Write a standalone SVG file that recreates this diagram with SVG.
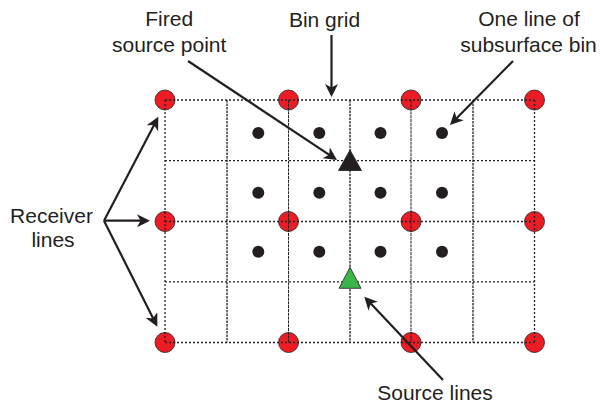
<svg xmlns="http://www.w3.org/2000/svg" width="600" height="407" viewBox="0 0 600 407">
<style>
.lbl{font-family:"Liberation Sans",Arial,sans-serif;font-size:21px;fill:#231F20;text-anchor:middle}
.rcv{fill:#ED1C24;stroke:#231F20;stroke-width:0.8}
.bin{fill:#231F20}
.h{stroke:#231F20;stroke-width:1.3;stroke-dasharray:2 2;fill:none}
.vd{stroke:#231F20;stroke-width:1.3;stroke-dasharray:2.5 1;fill:none}
.vt{stroke:#231F20;stroke-width:1;stroke-dasharray:3 0.8;fill:none}
.arr{stroke:#231F20;stroke-width:2.2;fill:none;marker-end:url(#ah)}
</style>
<defs>
<marker id="ah" markerUnits="userSpaceOnUse" markerWidth="15" markerHeight="14" refX="6" refY="6.5" orient="auto">
<path d="M0,0 L13,6.5 L0,13 L3.5,6.5 z" fill="#231F20"/>
</marker>
</defs>
<rect width="600" height="407" fill="#fff"/>
<g id="receivers">
<circle class="rcv" cx="165" cy="100" r="10"/>
<circle class="rcv" cx="288.5" cy="100" r="10"/>
<circle class="rcv" cx="411" cy="100" r="10"/>
<circle class="rcv" cx="534.5" cy="100" r="10"/>
<circle class="rcv" cx="165" cy="221.5" r="10"/>
<circle class="rcv" cx="288.5" cy="221.5" r="10"/>
<circle class="rcv" cx="411" cy="221.5" r="10"/>
<circle class="rcv" cx="534.5" cy="221.5" r="10"/>
<circle class="rcv" cx="165" cy="342.5" r="10"/>
<circle class="rcv" cx="288.5" cy="342.5" r="10"/>
<circle class="rcv" cx="411" cy="342.5" r="10"/>
<circle class="rcv" cx="534.5" cy="342.5" r="10"/>
</g>
<g id="grid">
<line class="h" x1="165" y1="100" x2="534.5" y2="100"/>
<line class="h" x1="165" y1="160.7" x2="534.5" y2="160.7"/>
<line class="h" x1="165" y1="221.5" x2="534.5" y2="221.5"/>
<line class="h" x1="165" y1="281.8" x2="534.5" y2="281.8"/>
<line class="h" x1="165" y1="342.5" x2="534.5" y2="342.5"/>
<line class="h" x1="165" y1="100" x2="165" y2="342.5"/>
<line class="h" x1="534.5" y1="100" x2="534.5" y2="342.5"/>
<line class="vd" x1="227" y1="100" x2="227" y2="342.5"/>
<line class="vt" x1="288.5" y1="100" x2="288.5" y2="342.5"/>
<line class="vd" x1="350" y1="100" x2="350" y2="342.5"/>
<line class="vt" x1="411" y1="100" x2="411" y2="342.5"/>
<line class="vd" x1="473" y1="100" x2="473" y2="342.5"/>
</g>
<g id="bins">
<circle class="bin" cx="258.3" cy="133" r="6"/>
<circle class="bin" cx="319.3" cy="133" r="6"/>
<circle class="bin" cx="380.5" cy="133" r="6"/>
<circle class="bin" cx="442" cy="133" r="6"/>
<circle class="bin" cx="258.3" cy="192.7" r="6"/>
<circle class="bin" cx="319.3" cy="192.7" r="6"/>
<circle class="bin" cx="380.5" cy="192.7" r="6"/>
<circle class="bin" cx="442" cy="192.7" r="6"/>
<circle class="bin" cx="258.3" cy="251.7" r="6"/>
<circle class="bin" cx="319.3" cy="251.7" r="6"/>
<circle class="bin" cx="380.5" cy="251.7" r="6"/>
<circle class="bin" cx="442" cy="251.7" r="6"/>
</g>
<g id="fired-source">
<polygon points="350,150 361.5,170.5 338.5,170.5" fill="#231F20" stroke="#231F20" stroke-width="0.8" stroke-linejoin="round"/>
</g>
<g id="source">
<polygon points="350,267.3 361,288.3 339,288.3" fill="#39B54A" stroke="#231F20" stroke-width="0.8" stroke-linejoin="round"/>
</g>
<g id="label-fired">
<text class="lbl" x="169.2" y="26">Fired</text>
<text class="lbl" x="169.2" y="51.7">source point</text>
</g>
<g id="label-bingrid">
<text class="lbl" x="324.5" y="26.5">Bin grid</text>
</g>
<g id="label-oneline">
<text class="lbl" x="529" y="26">One line of</text>
<text class="lbl" x="528.5" y="51.7">subsurface bin</text>
</g>
<g id="label-receiver">
<text class="lbl" x="51.5" y="223.3">Receiver</text>
<text class="lbl" x="53" y="246.7">lines</text>
</g>
<g id="label-source">
<text class="lbl" x="435" y="400">Source lines</text>
</g>
<g id="connectors">
<line class="arr" x1="331.5" y1="35" x2="331.5" y2="90"/>
<line class="arr" x1="188" y1="61" x2="331.2" y2="156.1"/>
<line class="arr" x1="513" y1="61" x2="454.9" y2="120"/>
<line class="arr" x1="104" y1="220.7" x2="155.1" y2="122.9"/>
<line class="arr" x1="104" y1="220.7" x2="143" y2="220.7"/>
<line class="arr" x1="104" y1="220.7" x2="154.2" y2="320.4"/>
<line class="arr" x1="443" y1="380" x2="369.1" y2="301.8"/>
</g>
</svg>
